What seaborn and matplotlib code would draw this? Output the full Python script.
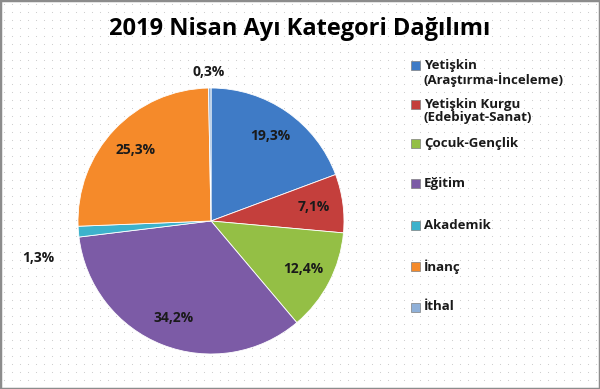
import numpy as np
import matplotlib
matplotlib.use("Agg")
import matplotlib.pyplot as plt
import seaborn as sns
from matplotlib.patches import Rectangle

categories = ["Yetişkin\n(Araştırma-İnceleme)", "Yetişkin Kurgu\n(Edebiyat-Sanat)",
              "Çocuk-Gençlik", "Eğitim", "Akademik", "İnanç", "İthal"]
values = [19.3, 7.1, 12.4, 34.2, 1.3, 25.3, 0.3]
pct_labels = ["19,3%", "7,1%", "12,4%", "34,2%", "1,3%", "25,3%", "0,3%"]
colors = ["#3F7BC6", "#C43F3C", "#94BF45", "#7C5BA6", "#3DB2CC", "#F58A2A", "#8FB0D8"]
title = "2019 Nisan Ayı Kategori Dağılımı"

sns.set_theme(style="white")
plt.rcParams["font.family"] = ["Open Sans", "DejaVu Sans"]

W, H = 600, 389
fig = plt.figure(figsize=(W / 100, H / 100), dpi=100)
fig.patch.set_facecolor("white")

# dotted background + overlay axes in pixel coordinates (y down)
bg = fig.add_axes([0, 0, 1, 1], zorder=-5)
bg.set_xlim(0, W); bg.set_ylim(H, 0); bg.axis("off")
gx, gy = np.meshgrid(np.arange(4, W, 8), np.arange(4, H, 8))
bg.scatter(gx.ravel(), gy.ravel(), s=0.6, color="#c8c8c8", linewidths=0)

cx, cy, r = 211, 389 - 221, 133
ax = fig.add_axes([(cx - r) / W, (cy - r) / H, 2 * r / W, 2 * r / H])
wedges, texts = ax.pie(values, colors=colors, startangle=90, counterclock=False,
                       wedgeprops=dict(edgecolor="white", linewidth=0.6))
ax.set_xlim(-1, 1); ax.set_ylim(-1, 1)
ax.set_aspect("equal")
ax.axis("off")

cum = np.cumsum([0] + values[:-1])
total = sum(values)
for i, (v, lab) in enumerate(zip(values, pct_labels)):
    mid = np.deg2rad(90 - (cum[i] + v / 2) / total * 360)
    d = 0.78
    x, y = d * np.cos(mid), d * np.sin(mid)
    if i == 4:
        x, y = -1.30, -0.28
    if i == 6:
        x, y = -0.02, 1.12
    ax.text(x, y, lab, ha="center", va="center", fontsize=10, fontweight="bold",
            color="#1a1a1a", clip_on=False)

fig.text(0.5, 0.925, title, ha="center", va="center", fontsize=17, fontweight="bold",
         color="black")

# legend (Excel-like uneven spacing)
ov = fig.add_axes([0, 0, 1, 1], zorder=5)
ov.set_xlim(0, W); ov.set_ylim(H, 0); ov.axis("off")
leg_y = [65, 104, 143, 183, 225, 266, 307]
for c, lab, y in zip(colors, categories, leg_y):
    ov.add_patch(Rectangle((411, y - 4.5), 9, 9, facecolor=c, edgecolor="#7f7f7f",
                           linewidth=0.5))
    ov.text(424, y - 6.5, lab, ha="left", va="top", fontsize=9.5, fontweight="bold",
            color="#1a1a1a", linespacing=1.05)

fig.patches.append(Rectangle((0, 0), 1, 1, transform=fig.transFigure, fill=False,
                             edgecolor="#8c8c8c", linewidth=2.5))
fig.savefig("out.png", dpi=100)
